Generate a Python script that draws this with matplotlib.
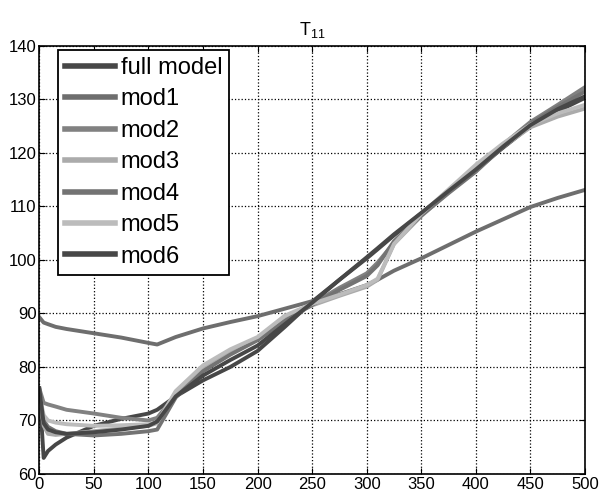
import numpy as np
import matplotlib
matplotlib.use("Agg")
import matplotlib.pyplot as plt

plt.rcParams['font.family'] = ['Liberation Sans', 'DejaVu Sans']
plt.rcParams['mathtext.fontset'] = 'custom'
plt.rcParams['mathtext.rm'] = 'Liberation Sans'
plt.rcParams['mathtext.default'] = 'regular'

# shared x positions
x = [0, 4, 8, 15, 25, 50, 75, 100, 108, 125, 150, 175, 200, 225, 250,
     275, 300, 310, 325, 350, 375, 400, 425, 450, 475, 500]

full_model = [76, 63, 64.3, 65.5, 66.8, 69, 70.3, 71.3, 72, 74.5, 77.5, 80, 83, 87.5, 92.2,
              96.3, 100.3, 102, 104.6, 108.7, 112.8, 116.8, 121, 125, 127.8, 130.3]
mod1 = [89.3, 88.3, 88, 87.5, 87.1, 86.3, 85.5, 84.5, 84.2, 85.6, 87.2, 88.4, 89.5, 90.9, 92.3,
        93.6, 95.3, 96.3, 98, 100.3, 102.8, 105.3, 107.6, 109.9, 111.6, 113.1]
mod2 = [76, 73.3, 73, 72.6, 72, 71.3, 70.5, 70, 70.5, 74.8, 79.6, 82.6, 85.2, 89, 91.8,
        94.8, 97.5, 99.5, 103.2, 108.5, 113, 117.2, 121.6, 125.8, 129, 132.3]
mod3 = [75, 69, 67.5, 67.3, 67.5, 68, 68.5, 69, 69.5, 75.3, 80, 83, 85.3, 89.4, 91.5,
        93.3, 95, 96.3, 103, 108.2, 112.7, 117.6, 121.2, 124.8, 126.8, 128.3]
mod4 = [72, 70, 68.8, 68, 67.5, 67.2, 67.5, 68, 68.3, 74.3, 79.2, 82.3, 85, 88.6, 91.6,
        94.4, 97, 99, 103.5, 108.3, 112.5, 116.5, 121.2, 125.5, 128.6, 131.5]
mod5 = [75, 71, 70, 69.6, 69.3, 69, 69.1, 69.3, 69.6, 75.5, 80.3, 83.3, 85.6, 89.6, 91.8,
        93.5, 95.3, 96.5, 103, 108.6, 113.2, 117.8, 121.8, 125.3, 127.4, 129]
mod6 = [76, 69.5, 68.3, 67.8, 67.5, 67.8, 68.3, 69, 69.8, 74.5, 78.4, 81.3, 84, 88, 92,
        96.3, 100.5, 102.2, 104.8, 108.8, 112.9, 116.9, 121.2, 125.2, 128.2, 130.6]

labels = ['full model', 'mod1', 'mod2', 'mod3', 'mod4', 'mod5', 'mod6']
series = [full_model, mod1, mod2, mod3, mod4, mod5, mod6]
colors = ['#474747', '#6e6e6e', '#818181', '#ababab', '#737373', '#bcbcbc', '#474747']

xticks = list(range(0, 501, 50))
yticks = list(range(60, 141, 10))

fig = plt.figure(figsize=(5.99, 4.96), dpi=100)
ax = fig.add_axes([0.0656, 0.0444, 0.911, 0.8629])

for s, lab, c in zip(series, labels, colors):
    ax.plot(x, s, color=c, lw=2.8, label=lab, solid_joinstyle='round')

ax.set_xlim(0, 500)
ax.set_ylim(60, 140)
ax.set_xticks(xticks)
ax.set_yticks(yticks)
ax.grid(True, color='black', linestyle=':', linewidth=0.9)
ax.tick_params(direction='in', top=True, right=True, length=4, labelsize=12, pad=2)
for sp in ax.spines.values():
    sp.set_linewidth(1.2)
ax.set_title('T$_{11}$', fontsize=13, pad=8)

leg = ax.legend(loc='upper left', bbox_to_anchor=(0.0343, 0.9907), borderaxespad=0,
                fontsize=17, handlelength=2.1, handletextpad=0.25, labelspacing=0.4,
                borderpad=0.3, fancybox=False, framealpha=1, edgecolor='black')
leg.get_frame().set_linewidth(1.3)
for h in leg.get_lines():
    h.set_linewidth(4)

fig.savefig('out.png', dpi=100)
